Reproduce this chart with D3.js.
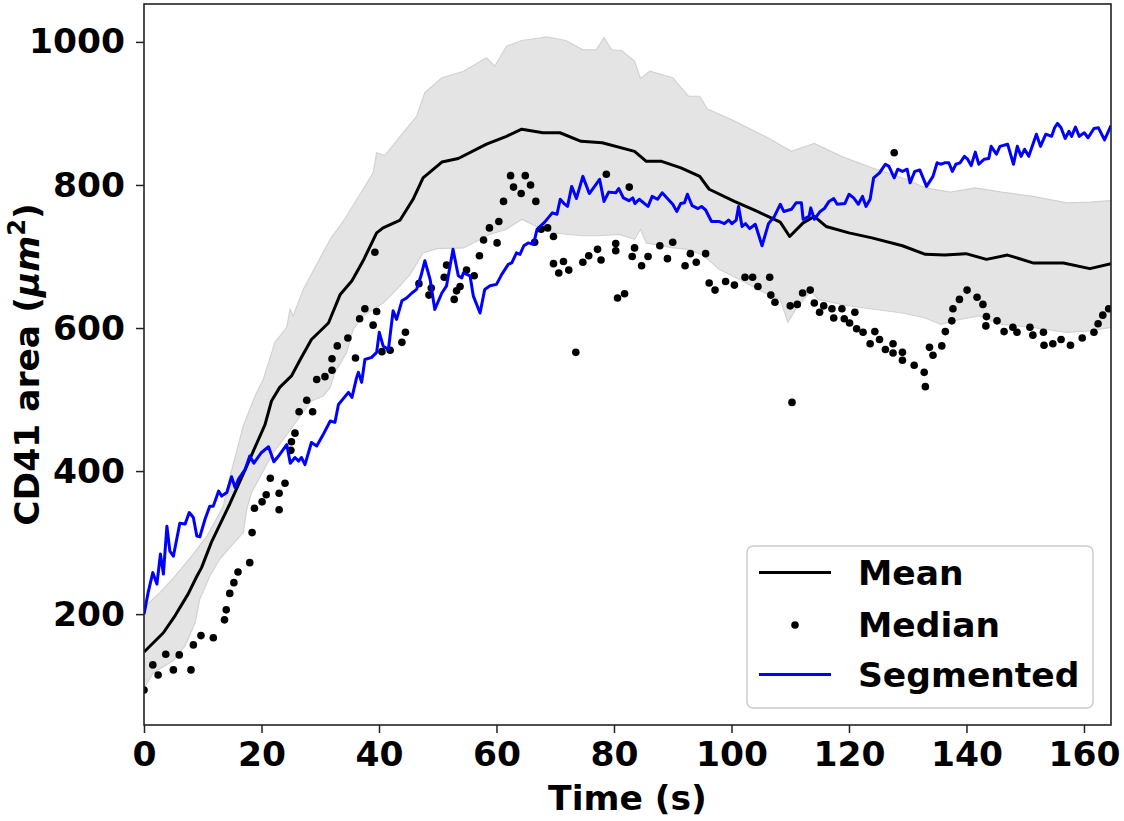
<!DOCTYPE html>
<html>
<head>
<meta charset="utf-8">
<script src="https://cdn.jsdelivr.net/npm/d3@7"></script>
<style>
  html, body { margin: 0; padding: 0; background: #fff; }
  svg { display: block; font-family: "DejaVu Sans", sans-serif; font-weight: bold; }
</style>
</head>
<body>
<svg id="chart" width="1124" height="821"></svg>
<script>
// ---------------- data (time in s, area in µm²) ----------------
const xTicks = [0, 20, 40, 60, 80, 100, 120, 140, 160];
const yTicks = [200, 400, 600, 800, 1000];
const legendLabels = ["Mean", "Median", "Segmented"];

const meanSeries = [[0,147],[3.3,174],[5.3,198],[7.5,228],[9.0,253],[9.8,265],[11.5,301],[14.6,354],[16.9,396],[20.6,465],[21.7,498],[23.1,517],[25.1,533],[26.6,556],[28.5,584],[31.4,607],[33.4,647],[35.4,666],[37.3,694],[39.6,733],[40.7,740],[43.6,751],[45.8,780],[47.5,810],[50.7,832],[53.5,837],[58.3,857],[61.7,868],[64.3,878],[67.9,873],[70.8,873],[74.4,861],[78.0,859],[83.5,847],[85.5,833],[88.1,833],[91.4,824],[94.6,812],[96.2,794],[100.5,777],[104.4,763],[108.3,748],[109.9,728],[112.2,747],[114.1,756],[116.1,742],[120.0,733],[123.9,726],[129.1,715],[133.0,703],[136.3,702],[139.9,704],[143.4,696],[147.0,702],[151.3,691],[156.5,691],[161.0,683],[164.6,690]];

const bandUpper = [[0,209],[2.7,230],[5.3,253],[8.1,281],[10.7,309],[13.5,351],[14.6,391],[16.9,463],[18.9,505],[20.3,528],[22.3,580],[24.3,601],[24.85,626],[25.4,617],[27.1,654],[31.7,724],[33.9,749],[37.3,794],[39.0,817],[39.6,845],[41.0,841],[43.6,868],[46.4,896],[47.8,929],[50.7,950],[54.4,959],[58.3,978],[59.7,966],[61.7,994],[64.3,1002],[68.6,1007],[71.8,1002],[74.7,989],[77.0,989],[78.3,1006],[79.6,989],[81.3,988],[83.5,973],[84.5,949],[86.1,959],[90.0,950],[92.7,924],[94.6,924],[95.9,906],[99.8,892],[105.7,868],[110.2,847],[114.1,858],[118.7,840],[123.9,824],[129.1,810],[133.0,796],[137.3,790],[141.5,796],[146.0,790],[151.3,784],[157.1,775],[161.0,776],[164.6,778]];

const bandLower = [[0,97],[1.6,118],[5.0,135],[7.0,156],[8.7,188],[9.5,221],[11.2,253],[12.9,277],[14.6,293],[16.9,314],[17.5,347],[18.3,370],[19.7,391],[22.0,426],[24.3,451],[26.6,477],[28.5,498],[30.5,505],[31.7,517],[32.5,538],[34.5,566],[35.6,598],[37.3,617],[39.0,626],[40.7,635],[43.0,654],[45.3,675],[47.5,705],[49.8,711],[54.4,712],[58.9,731],[61.7,738],[64.3,752],[67.3,740],[69.9,733],[74.4,729],[77.4,729],[80.9,731],[83.5,724],[84.5,738],[85.5,719],[90.0,712],[92.7,710],[95.3,701],[97.9,682],[101.8,666],[105.7,649],[108.3,640],[109.6,608],[110.9,626],[113.5,652],[114.8,640],[118.7,633],[122.6,628],[129.1,621],[133.0,614],[135.6,605],[138.9,612],[142.1,617],[146.0,605],[151.3,601],[157.1,594],[161.0,596],[164.6,601]];

const medianSeries = [[0,94],[1.5,129],[2.4,115],[3.7,144],[5.0,122],[6.0,143],[8.0,122],[8.4,157],[9.7,170],[11.8,167],[13.7,192],[14.0,206],[14.6,229],[15.3,244],[16.0,259],[18.0,272],[18.4,314],[18.8,348],[20.1,357],[20.8,367],[21.5,390],[23.0,346],[23.0,369],[24.0,383],[25.0,429],[25.1,441],[25.7,453],[26.4,483],[27.7,499],[28.7,483],[29.4,528],[30.8,532],[32.0,541],[32.0,557],[32.9,575],[34.7,586],[36.0,558],[36.7,613],[37.6,627],[39.0,604],[39.3,706],[39.6,623],[40.5,567],[41.9,569],[43.9,580],[44.5,594],[46.8,662],[48.5,646],[48.9,656],[51.1,671],[51.5,688],[52.8,640],[53.2,652],[53.8,658],[54.9,681],[56.2,673],[57.1,701],[57.8,723],[58.8,740],[60.1,719],[60.4,749],[61.2,777],[62.4,813],[62.9,797],[64.2,788],[64.9,813],[65.8,800],[66.5,720],[66.7,777],[67.6,738],[68.7,740],[69.7,728],[69.7,690],[70.6,677],[71.4,693],[72.3,681],[73.5,566],[74.7,692],[75.7,701],[77.2,710],[77.8,695],[78.7,815],[80.3,718],[80.3,708],[80.6,642],[81.8,648],[82.6,797],[83.1,700],[83.5,712],[84.7,687],[85.8,700],[87.8,715],[89.1,697],[90.0,720],[92.1,687],[93.0,704],[94.0,692],[95.6,704],[96.2,663],[97.2,653],[99.0,665],[100.5,660],[102.3,671],[103.6,671],[104.5,658],[106.5,671],[106.7,646],[107.4,636],[110.0,631],[110.3,496],[111.2,633],[112.1,649],[113.4,653],[114.1,635],[115.0,622],[115.7,631],[117.1,627],[117.4,614],[118.8,627],[119.2,613],[120.1,607],[121.0,622],[121.3,599],[122.4,594],[123.6,578],[124.4,595],[125.2,584],[126.2,570],[127.5,578],[127.5,565],[127.7,845],[129.1,566],[129.1,555],[131.1,548],[132.8,538],[133.0,518],[133.7,573],[134.3,562],[135.8,575],[136.4,595],[137.5,610],[137.7,627],[138.8,640],[140.1,653],[141.8,643],[142.8,633],[143.4,616],[143.3,603],[145.2,610],[146.4,595],[147.9,601],[148.6,594],[150.8,601],[151.3,590],[153.1,594],[153.2,576],[154.7,578],[156.1,584],[157.7,576],[159.7,586],[161.7,594],[162.4,606],[163.2,618],[164.2,627]];

const segmentedSeries = [[0,200],[0.7,230],[1.5,258],[2.2,242],[2.8,284],[3.3,256],[3.9,323],[4.4,288],[5.0,281],[6.1,327],[7.0,326],[7.7,342],[8.4,335],[9.0,309],[9.5,308],[10.4,333],[11.2,351],[11.8,351],[12.7,372],[13.2,365],[14.1,370],[14.9,392],[15.5,377],[16.1,389],[17.2,402],[18.0,421],[18.7,411],[20.0,426],[21.2,434],[22.1,413],[22.9,421],[24.3,437],[24.9,411],[25.7,419],[26.3,414],[26.8,419],[27.4,409],[28.5,440],[29.4,435],[30.5,451],[31.7,470],[32.5,468],[33.1,493],[34.8,510],[35.4,503],[36.2,531],[36.5,538],[37.05,524],[37.6,556],[38.75,559],[39.6,566],[40.05,594],[40.7,575],[41.6,570],[42.4,624],[43.0,612],[43.9,638],[44.7,642],[45.6,649],[46.4,654],[47.15,673],[47.8,694],[48.7,668],[49.5,626],[50.7,649],[51.5,659],[52.1,687],[52.6,710],[53.5,673],[54.1,670],[54.35,677],[55.5,673],[56.05,645],[57.2,621],[58.0,654],[58.9,659],[60.0,661],[60.9,675],[62.0,689],[62.6,691],[63.4,705],[64.0,703],[64.65,715],[65.4,719],[66.3,717],[66.9,738],[68.2,748],[69.5,761],[70.3,759],[70.85,780],[71.5,774],[72.1,770],[72.8,798],[73.6,781],[74.7,812],[75.8,788],[76.7,798],[77.55,808],[78.3,777],[79.1,790],[80.3,789],[80.8,795],[81.6,782],[82.55,778],[83.2,782],[83.55,774],[84.3,780],[85.2,774],[85.8,770],[86.5,784],[87.4,780],[88.2,789],[89.1,781],[90.0,773],[90.7,763],[91.35,774],[92.0,775],[92.5,787],[93.3,771],[94.3,767],[94.9,770],[95.6,765],[96.6,749],[97.85,749],[98.8,746],[99.5,751],[100.1,746],[100.8,751],[101.2,770],[101.8,742],[102.4,746],[103.1,739],[104.05,745],[105.2,715],[106.3,746],[107.3,756],[108.3,773],[108.9,763],[110.2,766],[111.0,775],[111.9,775],[112.2,752],[113.2,756],[113.5,768],[114.1,752],[115.1,763],[115.8,767],[116.6,777],[117.4,781],[118.0,773],[119.3,774],[120.0,787],[120.8,782],[121.6,773],[122.3,784],[122.9,770],[123.6,780],[124.2,810],[125.2,817],[126.2,829],[126.8,826],[127.7,810],[128.3,822],[129.1,819],[129.9,822],[130.4,803],[131.2,819],[132.05,821],[133.2,798],[134.3,812],[135.0,831],[135.6,829],[136.3,831],[137.0,831],[137.6,819],[138.2,829],[138.9,831],[139.65,840],[140.2,836],[140.8,827],[141.5,846],[142.1,829],[143.0,836],[143.8,837],[144.2,854],[145.1,843],[145.7,854],[147.0,857],[148.0,829],[148.65,854],[149.3,840],[149.9,850],[150.6,840],[151.9,871],[152.6,854],[153.5,871],[154.5,868],[155.0,880],[155.5,886],[156.1,880],[156.8,865],[157.45,875],[157.9,868],[158.55,881],[159.2,868],[160.05,873],[160.7,866],[161.7,879],[162.45,880],[163.5,863],[164.6,883]];

// ---------------- layout ----------------
const svg = d3.select("#chart");
const plot = { left: 144, right: 1111, top: 4, bottom: 725 };
const FS = 34.5;
const LW = 3;
const DOT_R = 3.8;

const x = d3.scaleLinear().domain([0, 164.6]).range([plot.left, plot.right]);
const y = d3.scaleLinear().domain([45, 1053]).range([plot.bottom, plot.top]);

svg.append("defs").append("clipPath").attr("id", "clip")
  .append("rect").attr("x", plot.left).attr("y", plot.top)
  .attr("width", plot.right - plot.left).attr("height", plot.bottom - plot.top);

const g = svg.append("g").attr("clip-path", "url(#clip)");

// band
const bandPoly = bandUpper.concat(bandLower.slice().reverse());
const polyLine = d3.line().x(d => x(d[0])).y(d => y(d[1]));
g.append("path")
  .attr("d", polyLine(bandPoly) + "Z")
  .attr("fill", "#e4e4e4")
  .attr("stroke", "#d2d2d2")
  .attr("stroke-width", 1.2);

const line = d3.line().x(d => x(d[0])).y(d => y(d[1]));

// mean
g.append("path").attr("d", line(meanSeries))
  .attr("fill", "none").attr("stroke", "#000").attr("stroke-width", LW)
  .attr("stroke-linejoin", "round");

// median dots
g.selectAll("circle.med").data(medianSeries).join("circle")
  .attr("class", "med")
  .attr("cx", d => x(d[0])).attr("cy", d => y(d[1])).attr("r", DOT_R)
  .attr("fill", "#000");

// segmented
g.append("path").attr("d", line(segmentedSeries))
  .attr("fill", "none").attr("stroke", "#0000ff").attr("stroke-width", LW)
  .attr("stroke-linejoin", "round");

// ---------------- axes ----------------
const xAxis = d3.axisBottom(x).tickValues(xTicks).tickSize(8).tickPadding(9).tickFormat(d3.format("d"));
const yAxis = d3.axisLeft(y).tickValues(yTicks).tickSize(8).tickPadding(11).tickFormat(d3.format("d"));

const gx = svg.append("g").attr("transform", `translate(0,${plot.bottom})`).call(xAxis);
const gy = svg.append("g").attr("transform", `translate(${plot.left},0)`).call(yAxis);
[gx, gy].forEach(a => {
  a.select(".domain").remove();
  a.selectAll(".tick line").attr("stroke", "#222").attr("stroke-width", 1.5);
  a.selectAll(".tick text").attr("fill", "#000")
    .style("font-family", "'DejaVu Sans', sans-serif")
    .style("font-weight", "bold").style("font-size", FS + "px");
});
gx.selectAll(".tick text").attr("dy", "0.71em");

// frame
svg.append("rect")
  .attr("x", plot.left).attr("y", plot.top)
  .attr("width", plot.right - plot.left).attr("height", plot.bottom - plot.top)
  .attr("fill", "none").attr("stroke", "#222").attr("stroke-width", 1.6);

// axis labels
svg.append("text")
  .attr("x", (plot.left + plot.right) / 2).attr("y", 810)
  .attr("text-anchor", "middle").style("font-size", FS + "px")
  .text("Time (s)");

const yl = svg.append("text")
  .attr("transform", `translate(39,${(plot.top + plot.bottom) / 2}) rotate(-90)`)
  .attr("text-anchor", "middle").style("font-size", FS + "px");
yl.append("tspan").text("CD41 area (");
yl.append("tspan").style("font-style", "italic").text("μm");
yl.append("tspan").attr("dy", -14).style("font-size", (FS * 0.7) + "px").text("2");
yl.append("tspan").attr("dy", 14).text(")");

// ---------------- legend ----------------
const lg = svg.append("g");
lg.append("rect")
  .attr("x", 747).attr("y", 546).attr("width", 346).attr("height", 162)
  .attr("rx", 6).attr("fill", "#fff").attr("fill-opacity", 0.85)
  .attr("stroke", "#cccccc").attr("stroke-width", 1.5);

const rows = [572.5, 625, 674.5];
lg.append("line").attr("x1", 759).attr("x2", 831).attr("y1", rows[0]).attr("y2", rows[0])
  .attr("stroke", "#000").attr("stroke-width", LW);
lg.append("circle").attr("cx", 795).attr("cy", rows[1]).attr("r", DOT_R).attr("fill", "#000");
lg.append("line").attr("x1", 759).attr("x2", 831).attr("y1", rows[2]).attr("y2", rows[2])
  .attr("stroke", "#0000ff").attr("stroke-width", LW);
legendLabels.forEach((t, i) => {
  lg.append("text").attr("x", 858).attr("y", rows[i]).attr("dy", "0.36em")
    .style("font-size", FS + "px").text(t);
});
</script>
</body>
</html>
